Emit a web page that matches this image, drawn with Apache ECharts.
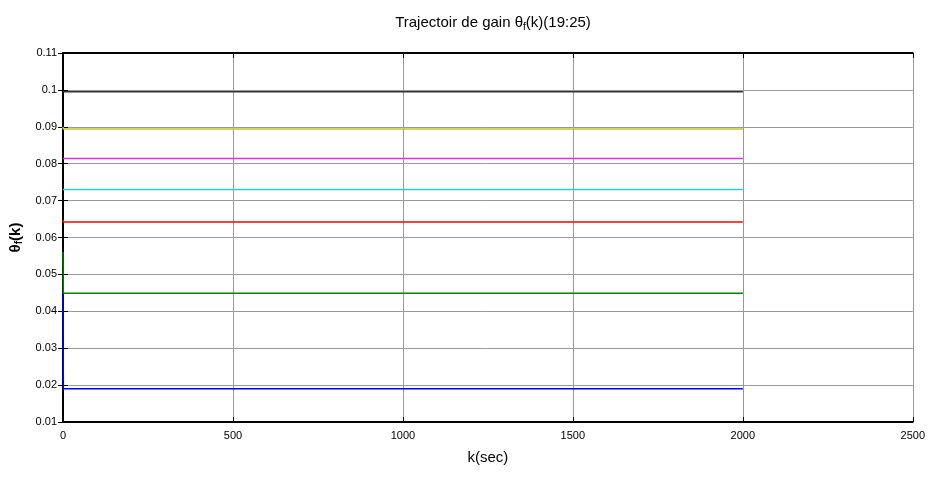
<!DOCTYPE html>
<html>
<head>
<meta charset="utf-8">
<script src="https://cdn.jsdelivr.net/npm/echarts@6/dist/echarts.min.js"></script>
<style>html,body{margin:0;padding:0;background:#fff}#c{width:928px;height:478px}</style>
</head>
<body>
<div id="c"></div>
<script>
// Data
const seriesNames = ['theta19','theta20','theta21','theta22','theta23','theta24','theta25'];
const seriesColors = ['#0000ff','#007f00','#ff0000','#33cccc','#d633d6','#c8c820','#333333'];
const startValues = [0.0450, 0.0561, 0.0648, 0.0730, 0.0814, 0.0900, 0.0995];
const finalValues = [0.0190, 0.0449, 0.0642, 0.0730, 0.0814, 0.0894, 0.0995];
const kPoints = [0, 1, 2000];
const xTicks = [0, 500, 1000, 1500, 2000, 2500];
const yTicks = [0.01,0.02,0.03,0.04,0.05,0.06,0.07,0.08,0.09,0.1,0.11];

const FONT = '"Liberation Sans Narrow","Liberation Sans",Arial,sans-serif';

const series = seriesNames.map((n, i) => ({
  name: n,
  type: 'line',
  data: [[kPoints[0], startValues[i]], [kPoints[1], finalValues[i]], [kPoints[2], finalValues[i]]],
  showSymbol: false,
  symbol: 'none',
  lineStyle: { color: seriesColors[i], width: 1.5 },
  itemStyle: { color: seriesColors[i] },
  animation: false,
  z: 3
}));

const chart = echarts.init(document.getElementById('c'), null, { renderer: 'canvas' });
chart.setOption({
  animation: false,
  backgroundColor: '#fff',
  title: {
    text: 'Trajectoir de gain {t|θ}{s|f}{t|(k)(19:25)}',
    left: 488, textAlign: 'center', top: 8,
    textStyle: {
      fontFamily: FONT, fontWeight: 'normal', fontSize: 15, color: '#000',
      rich: {
        t: { fontFamily: FONT, fontSize: 15, color: '#000' },
        s: { fontFamily: FONT, fontSize: 10, color: '#000', verticalAlign: 'bottom', padding: [9, 0, 0, 0] }
      }
    }
  },
  grid: { left: 63, right: 15, top: 53, bottom: 56, containLabel: false },
  xAxis: [{
    type: 'value', min: 0, max: 2500, interval: 500,
    name: 'k(sec)', nameLocation: 'middle', nameGap: 28,
    nameTextStyle: { fontFamily: FONT, fontSize: 15, color: '#000' },
    axisLine: { show: true, lineStyle: { color: '#000', width: 2 } },
    axisTick: { show: true, inside: true, length: 5, lineStyle: { color: '#000' } },
    axisLabel: { fontFamily: FONT, fontSize: 11, color: '#000', margin: 8,
      formatter: v => String(Math.round(v)) },
    splitLine: { show: true, lineStyle: { color: '#999', width: 1 } }
  }, {
    type: 'value', min: 0, max: 2500, interval: 500, position: 'top',
    axisLine: { show: true, lineStyle: { color: '#000', width: 2 } },
    axisTick: { show: true, inside: true, length: 5, lineStyle: { color: '#000' } },
    axisLabel: { show: false }, splitLine: { show: false }
  }],
  yAxis: [{
    type: 'value', min: 0.01, max: 0.11, interval: 0.01,
    name: '{b|θ}{s|f}{b|(k)}', nameLocation: 'middle', nameGap: 36, nameRotate: 90,
    nameTextStyle: {
      fontFamily: FONT, fontSize: 15, color: '#000', fontWeight: 'bold',
      rich: {
        b: { fontFamily: FONT, fontSize: 15, fontWeight: 'bold', color: '#000' },
        s: { fontFamily: FONT, fontSize: 10, fontWeight: 'bold', color: '#000', padding: [8, 0, 0, 0] }
      }
    },
    axisLine: { show: true, lineStyle: { color: '#000', width: 2 } },
    axisTick: { show: true, inside: true, length: 5, lineStyle: { color: '#000' } },
    axisLabel: { fontFamily: FONT, fontSize: 11, color: '#000', margin: 6,
      formatter: v => String(+v.toFixed(2)) },
    splitLine: { show: true, lineStyle: { color: '#999', width: 1 } }
  }, {
    type: 'value', min: 0.01, max: 0.11, interval: 0.01, position: 'right',
    axisLine: { show: true, lineStyle: { color: '#000', width: 2 } },
    axisTick: { show: true, inside: true, length: 5, lineStyle: { color: '#000' } },
    axisLabel: { show: false }, splitLine: { show: false }
  }],
  series: series
});
</script>
</body>
</html>
